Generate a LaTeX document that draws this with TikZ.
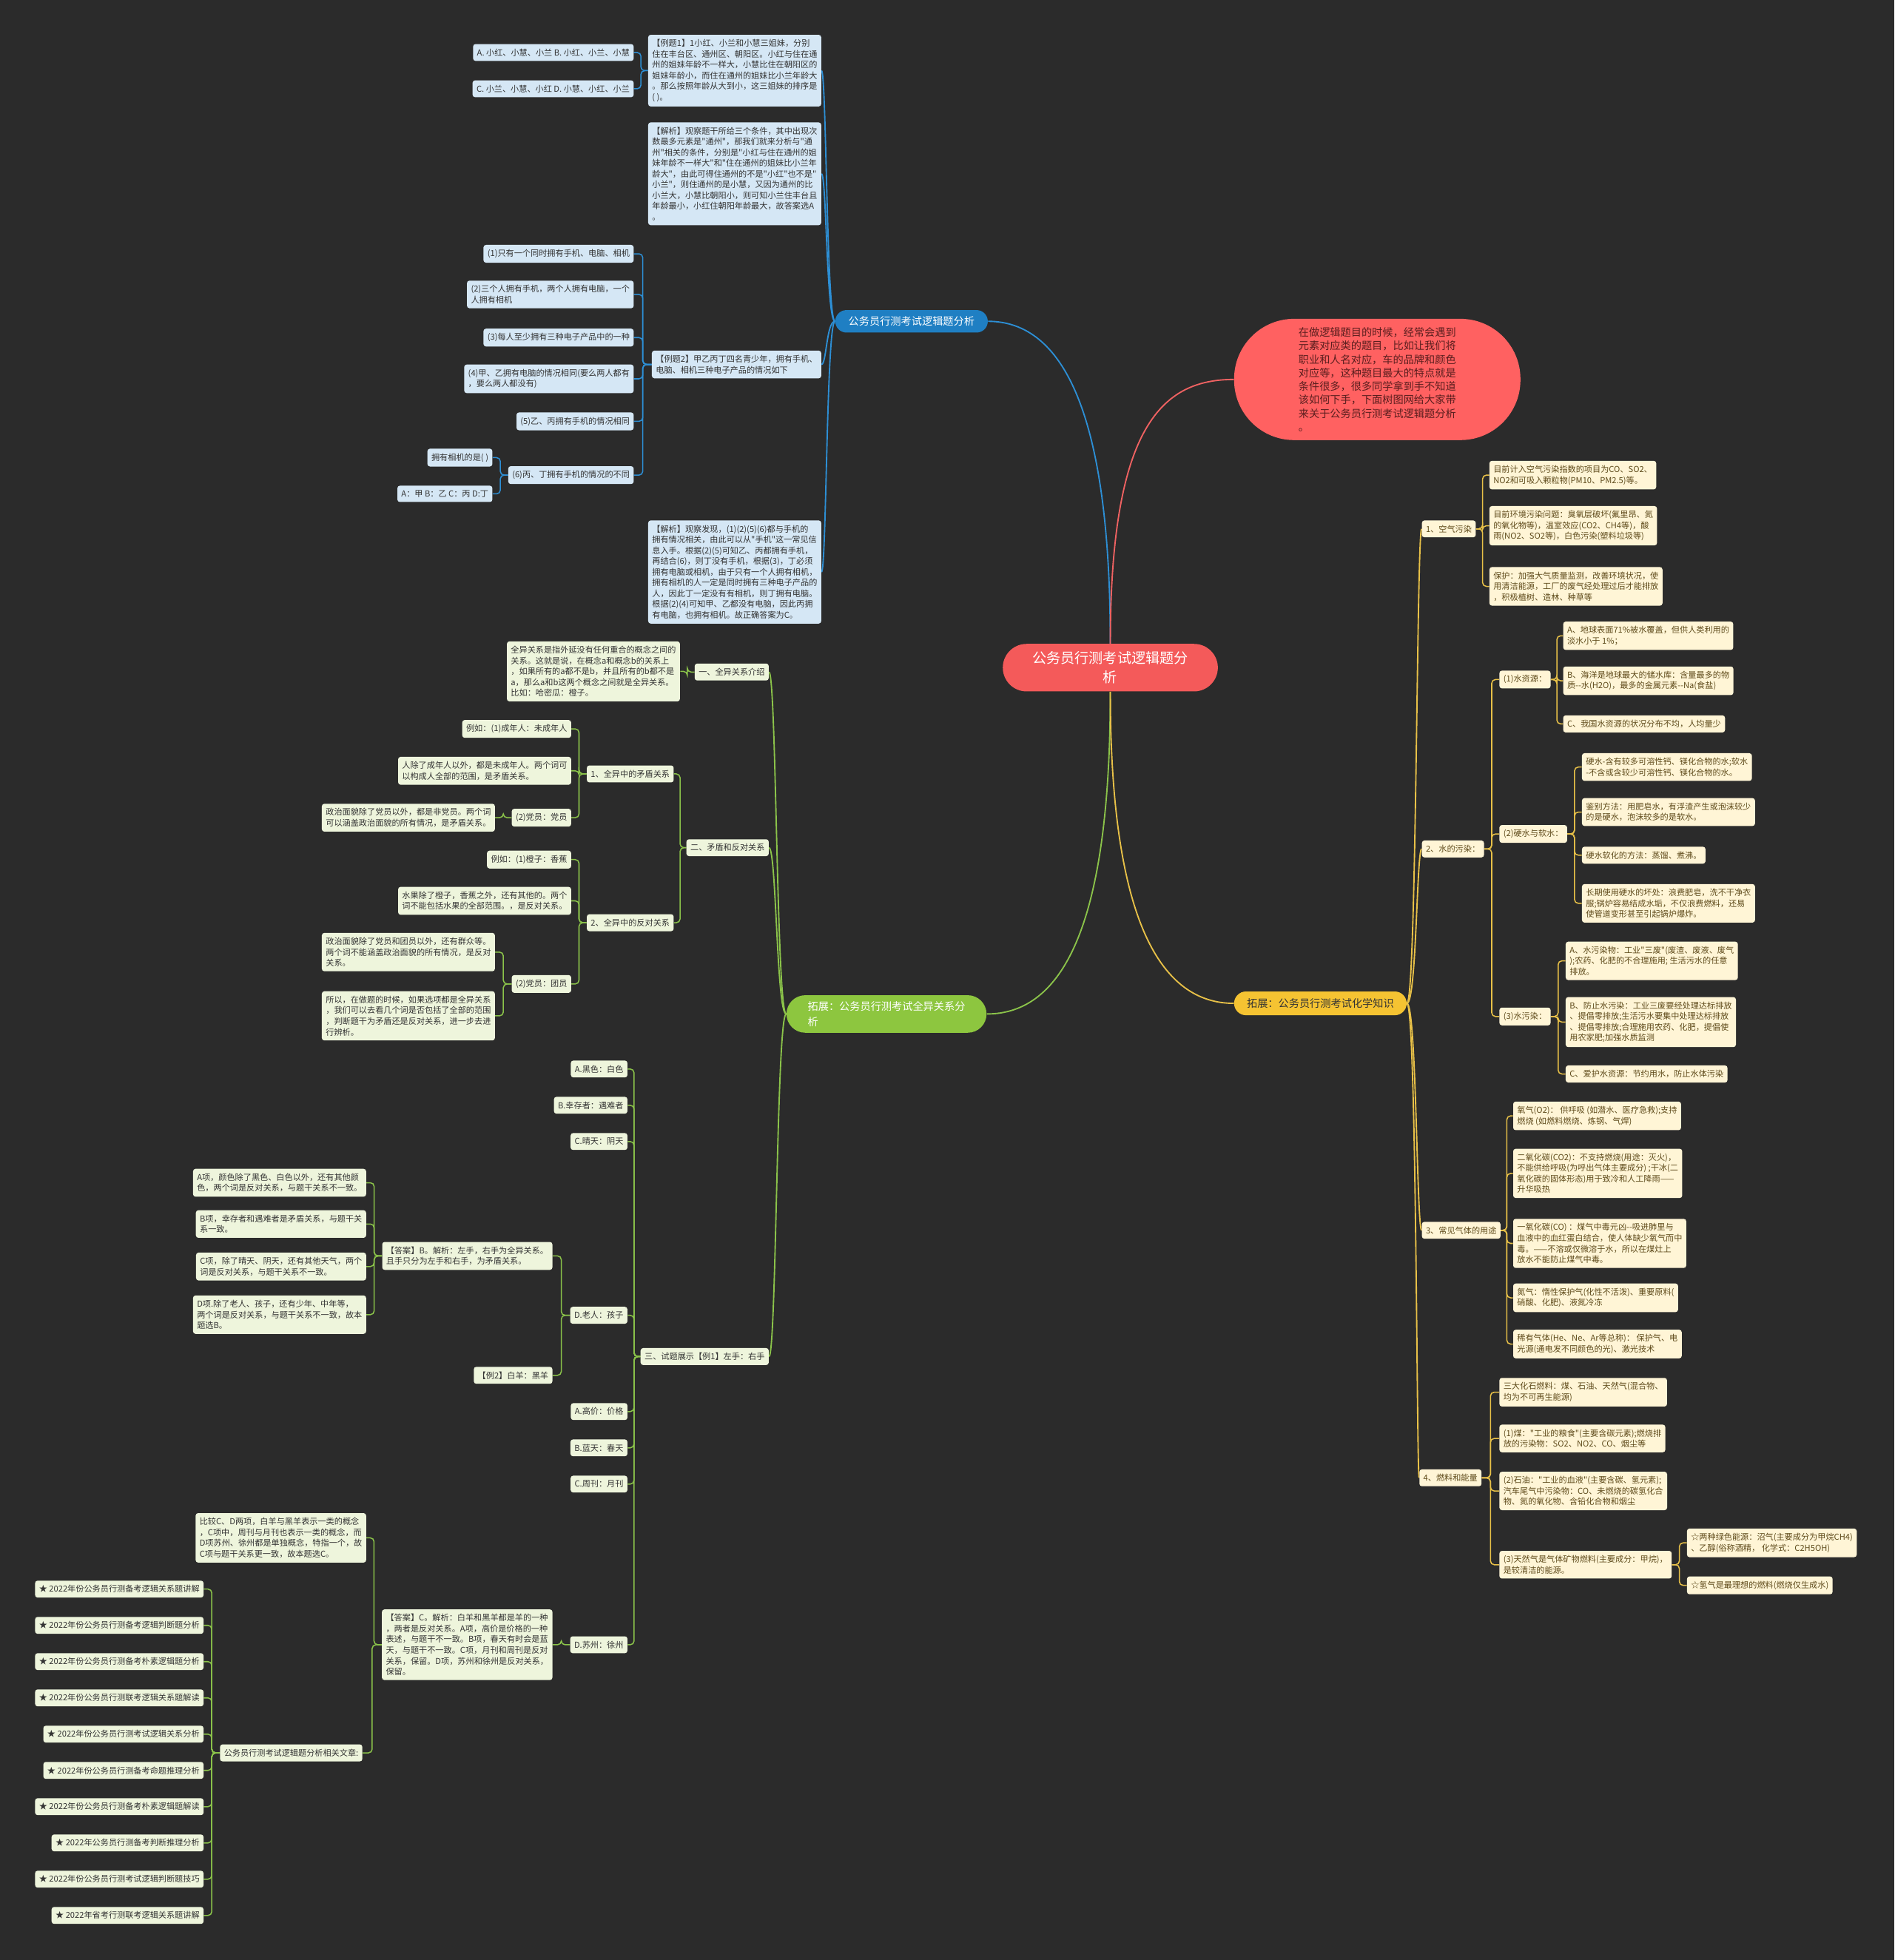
\documentclass[tikz,border=0pt]{standalone}
\usepackage{fontspec}
\newfontfamily\cjk{Noto Sans CJK SC}
\usetikzlibrary{calc}
\definecolor{bgc}{HTML}{2B2B2B}
\definecolor{bluefill}{HTML}{D5E7F5}
\definecolor{greenfill}{HTML}{EEF5DC}
\definecolor{yellowfill}{HTML}{FFF5D6}
\definecolor{bluebr}{HTML}{1F7FC3}
\definecolor{greenbr}{HTML}{8DC63F}
\definecolor{yellowbr}{HTML}{F5C332}
\definecolor{ctrred}{HTML}{F45A5A}
\definecolor{descred}{HTML}{FF6161}
\definecolor{blueline}{HTML}{2D8FD5}
\definecolor{greenline}{HTML}{8BC34A}
\definecolor{yellowline}{HTML}{E8C148}
\definecolor{redline}{HTML}{F06262}
\definecolor{txtdark}{HTML}{333333}
\definecolor{txtbrown}{HTML}{5E4A1A}
\definecolor{desctxt}{HTML}{5A1E1E}
\pgfdeclarelayer{back}
\pgfdeclarelayer{lines}
\pgfsetlayers{back,lines,main}
\newcommand\connL[3]{\draw[#3] (#1.west) -- ($(#1.west)!.5!(#1.west -| #2.east)$) |- (#2.east);}
\newcommand\connR[3]{\draw[#3] (#1.east) -- ($(#1.east)!.5!(#1.east -| #2.west)$) |- (#2.west);}
\newcommand\curveL[4]{\draw[#3] (#1.west) .. controls (#1.west -| #4) and (#2.east -| #4) .. (#2.east);}
\newcommand\curveR[4]{\draw[#3] (#1.east) .. controls (#1.east -| #4) and (#2.west -| #4) .. (#2.west);}
\begin{document}
\begin{tikzpicture}[x={(1pt,0pt)},y={(0pt,-1pt)},
 base/.style={font=\cjk\fontsize{6.6}{8.6}\selectfont, align=left, rounded corners=2pt, inner xsep=3.2pt, inner ysep=3.7pt},
 bn/.style={base, fill=bluefill, text=txtdark},
 gn/.style={base, fill=greenfill, text=txtdark},
 yn/.style={base, fill=yellowfill, text=txtbrown},
 L/.style={anchor=east}, R/.style={anchor=west},
 bl/.style={draw=blueline, line width=0.9pt, rounded corners=3pt},
 gl/.style={draw=greenline, line width=0.9pt, rounded corners=3pt},
 yl/.style={draw=yellowline, line width=0.9pt, rounded corners=3pt},
 blt/.style={draw=blueline, line width=1.1pt},
 glt/.style={draw=greenline, line width=1.1pt},
 ylt/.style={draw=yellowline, line width=1.1pt},
 rlt/.style={draw=redline, line width=1.1pt},
 branch/.style={font=\cjk\fontsize{8.4}{12}\selectfont, inner sep=0pt}
]
\begin{pgfonlayer}{back}
\fill[bgc] (0,0) rectangle (1515,1567.66);
\end{pgfonlayer}
\useasboundingbox (0,0) rectangle (1515,1567.66);

% ---------- centre ----------
\node[font=\cjk\fontsize{11.3}{15.5}\selectfont, align=center, fill=ctrred, text=white,
  minimum width=172, minimum height=38, rounded corners=19pt, inner sep=0pt] (ctr) at (888,534) {公务员行测考试逻辑题分\\析};
\node[font=\cjk\fontsize{8.4}{10.8}\selectfont, align=left, fill=descred, text=desctxt,
  minimum width=229, minimum height=97, rounded corners=48pt, inner sep=0pt] (desc) at (1101.5,303.5)
  {在做逻辑题目的时候，经常会遇到\\元素对应类的题目，比如让我们将\\职业和人名对应，车的品牌和颜色\\对应等，这种题目最大的特点就是\\条件很多，很多同学拿到手不知道\\该如何下手，下面树图网给大家带\\来关于公务员行测考试逻辑题分析\\。};
\node[branch, fill=bluebr, text=white, minimum width=122, minimum height=18, rounded corners=9pt] (bb) at (729,257) {公务员行测考试逻辑题分析};
\node[branch, align=left, fill=greenbr, text=white, minimum width=160, minimum height=30, rounded corners=15pt] (gb) at (709,811) {拓展：公务员行测考试全异关系分\\析};
\node[branch, fill=yellowbr, text=txtdark, minimum width=138, minimum height=19, rounded corners=9.5pt] (yb) at (1056,802.5) {拓展：公务员行测考试化学知识};

% ---------- blue branch ----------
\node[bn,L] (b1) at (657,56.5) {【例题1】1小红、小兰和小慧三姐妹，分别\\住在丰台区、通州区、朝阳区。小红与住在通\\州的姐妹年龄不一样大，小慧比住在朝阳区的\\姐妹年龄小，而住在通州的姐妹比小兰年龄大\\。那么按照年龄从大到小，这三姐妹的排序是\\( )。};
\node[bn,L] (b1a) at (507,42) {A. 小红、小慧、小兰 B. 小红、小兰、小慧};
\node[bn,L] (b1c) at (507,71) {C. 小兰、小慧、小红 D. 小慧、小红、小兰};
\node[bn,L] (b2) at (657,139) {【解析】观察题干所给三个条件，其中出现次\\数最多元素是"通州"，那我们就来分析与"通\\州"相关的条件，分别是"小红与住在通州的姐\\妹年龄不一样大"和"住在通州的姐妹比小兰年\\龄大"，由此可得住通州的不是"小红"也不是"\\小兰"，则住通州的是小慧，又因为通州的比\\小兰大，小慧比朝阳小，则可知小兰住丰台且\\年龄最小，小红住朝阳年龄最大，故答案选A\\。};
\node[bn,L] (b3) at (657,291.5) {【例题2】甲乙丙丁四名青少年，拥有手机、\\电脑、相机三种电子产品的情况如下};
\node[bn,L] (b3a) at (507,203) {(1)只有一个同时拥有手机、电脑、相机};
\node[bn,L] (b3b) at (507,235.5) {(2)三个人拥有手机，两个人拥有电脑，一个\\人拥有相机};
\node[bn,L] (b3c) at (507,270) {(3)每人至少拥有三种电子产品中的一种};
\node[bn,L] (b3d) at (507,303) {(4)甲、乙拥有电脑的情况相同(要么两人都有\\，要么两人都没有)};
\node[bn,L] (b3e) at (507,337) {(5)乙、丙拥有手机的情况相同};
\node[bn,L] (b3f) at (507,380) {(6)丙、丁拥有手机的情况的不同};
\node[bn,L] (b3f1) at (394,366) {拥有相机的是( )};
\node[bn,L] (b3f2) at (394,395) {A：甲 B：乙 C：丙 D:丁};
\node[bn,L] (b4) at (657,457.5) {【解析】观察发现，(1)(2)(5)(6)都与手机的\\拥有情况相关，由此可以从"手机"这一常见信\\息入手。根据(2)(5)可知乙、丙都拥有手机，\\再结合(6)，则丁没有手机，根据(3)，丁必须\\拥有电脑或相机，由于只有一个人拥有相机，\\拥有相机的人一定是同时拥有三种电子产品的\\人，因此丁一定没有有相机，则丁拥有电脑。\\根据(2)(4)可知甲、乙都没有电脑，因此丙拥\\有电脑，也拥有相机。故正确答案为C。};

% ---------- green branch ----------
\node[gn,L] (g1) at (615,537.5) {一、全异关系介绍};
\node[gn,L] (g1a) at (544,537) {全异关系是指外延没有任何重合的概念之间的\\关系。这就是说，在概念a和概念b的关系上\\，如果所有的a都不是b，并且所有的b都不是\\a，那么a和b这两个概念之间就是全异关系。\\比如：哈密瓜：橙子。};
\node[gn,L] (g2) at (615,678) {二、矛盾和反对关系};
\node[gn,L] (g21) at (539,619) {1、全异中的矛盾关系};
\node[gn,L] (g21a) at (457,583) {例如：(1)成年人：未成年人};
\node[gn,L] (g21b) at (457,616.5) {人除了成年人以外，都是未成年人。两个词可\\以构成人全部的范围，是矛盾关系。};
\node[gn,L] (g21c) at (457,654) {(2)党员：党员};
\node[gn,L] (g21c1) at (396,654) {政治面貌除了党员以外，都是非党员。两个词\\可以涵盖政治面貌的所有情况，是矛盾关系。};
\node[gn,L] (g22) at (539,738) {2、全异中的反对关系};
\node[gn,L] (g22a) at (457,687.5) {例如：(1)橙子：香蕉};
\node[gn,L] (g22b) at (457,720.5) {水果除了橙子，香蕉之外，还有其他的。两个\\词不能包括水果的全部范围。，是反对关系。};
\node[gn,L] (g22c) at (457,787) {(2)党员：团员};
\node[gn,L] (g22c1) at (396,761.5) {政治面貌除了党员和团员以外，还有群众等。\\两个词不能涵盖政治面貌的所有情况，是反对\\关系。};
\node[gn,L] (g22c2) at (396,812.5) {所以，在做题的时候，如果选项都是全异关系\\，我们可以去看几个词是否包括了全部的范围\\，判断题干为矛盾还是反对关系，进一步去进\\行辨析。};
\node[gn,L] (g3) at (615,1085) {三、试题展示【例1】左手：右手};
\node[gn,L] (g3a) at (502,855) {A.黑色：白色};
\node[gn,L] (g3b) at (502,884) {B.幸存者：遇难者};
\node[gn,L] (g3c) at (502,913) {C.晴天：阴天};
\node[gn,L] (g3d) at (502,1052) {D.老人：孩子};
\node[gn,L] (g3d1) at (442,1004.5) {【答案】B。解析：左手，右手为全异关系。\\且手只分为左手和右手，为矛盾关系。};
\node[gn,L] (g3d1a) at (293,946) {A项，颜色除了黑色、白色以外，还有其他颜\\色，两个词是反对关系，与题干关系不一致。};
\node[gn,L] (g3d1b) at (293,979) {B项，幸存者和遇难者是矛盾关系，与题干关\\系一致。};
\node[gn,L] (g3d1c) at (293,1013) {C项，除了晴天、阴天，还有其他天气，两个\\词是反对关系，与题干关系不一致。};
\node[gn,L] (g3d1d) at (293,1051.5) {D项.除了老人、孩子，还有少年、中年等，\\两个词是反对关系，与题干关系不一致，故本\\题选B。};
\node[gn,L] (g3d2) at (442,1100) {【例2】白羊：黑羊};
\node[gn,L] (g3e) at (502,1129) {A.高价：价格};
\node[gn,L] (g3f) at (502,1158) {B.蓝天：春天};
\node[gn,L] (g3g) at (502,1187) {C.周刊：月刊};
\node[gn,L] (g3h) at (502,1315.5) {D.苏州：徐州};
\node[gn,L] (g3h1) at (442,1315.5) {【答案】C。解析：白羊和黑羊都是羊的一种\\，两者是反对关系。A项，高价是价格的一种\\表述，与题干不一致。B项，春天有时会是蓝\\天，与题干不一致。C项，月刊和周刊是反对\\关系，保留。D项，苏州和徐州是反对关系，\\保留。};
\node[gn,L] (g3h1a) at (293,1230) {比较C、D两项，白羊与黑羊表示一类的概念\\，C项中，周刊与月刊也表示一类的概念，而\\D项苏州、徐州都是单独概念，特指一个，故\\C项与题干关系更一致，故本题选C。};
\node[gn,L] (rel) at (290,1402) {公务员行测考试逻辑题分析相关文章:};
\node[gn,L] (r1) at (163,1271) {★ 2022年份公务员行测备考逻辑关系题讲解};
\node[gn,L] (r2) at (163,1300) {★ 2022年份公务员行测备考逻辑判断题分析};
\node[gn,L] (r3) at (163,1329) {★ 2022年份公务员行测备考朴素逻辑题分析};
\node[gn,L] (r4) at (163,1358) {★ 2022年份公务员行测联考逻辑关系题解读};
\node[gn,L] (r5) at (163,1387) {★ 2022年份公务员行测考试逻辑关系分析};
\node[gn,L] (r6) at (163,1416) {★ 2022年份公务员行测备考命题推理分析};
\node[gn,L] (r7) at (163,1445) {★ 2022年份公务员行测备考朴素逻辑题解读};
\node[gn,L] (r8) at (163,1474) {★ 2022年公务员行测备考判断推理分析};
\node[gn,L] (r9) at (163,1503) {★ 2022年份公务员行测考试逻辑判断题技巧};
\node[gn,L] (r10) at (163,1532) {★ 2022年省考行测联考逻辑关系题讲解};

% ---------- yellow branch ----------
\node[yn,R] (y1) at (1137,423) {1、空气污染};
\node[yn,R] (y1a) at (1191,380) {目前计入空气污染指数的项目为CO、SO2、\\NO2和可吸入颗粒物(PM10、PM2.5)等。};
\node[yn,R] (y1b) at (1191,420.5) {目前环境污染问题：臭氧层破坏(氟里昂、氮\\的氧化物等)，温室效应(CO2、CH4等)，酸\\雨(NO2、SO2等)，白色污染(塑料垃圾等)};
\node[yn,R] (y1c) at (1191,469) {保护：加强大气质量监测，改善环境状况，使\\用清洁能源，工厂的废气经处理过后才能排放\\，积极植树、造林、种草等};
\node[yn,R] (y2) at (1137,679) {2、水的污染：};
\node[yn,R] (y21) at (1199,543.5) {(1)水资源：};
\node[yn,R] (y21a) at (1250,508.5) {A、地球表面71\%被水覆盖，但供人类利用的\\淡水小于 1\%；};
\node[yn,R] (y21b) at (1250,544.5) {B、海洋是地球最大的储水库：含量最多的物\\质-{}-水(H2O)，最多的金属元素-{}-Na(食盐)};
\node[yn,R] (y21c) at (1250,579) {C、我国水资源的状况分布不均，人均量少};
\node[yn,R] (y22) at (1199,667) {(2)硬水与软水：};
\node[yn,R] (y22a) at (1265,613.5) {硬水-含有较多可溶性钙、镁化合物的水;软水\\-不含或含较少可溶性钙、镁化合物的水。};
\node[yn,R] (y22b) at (1265,649.5) {鉴别方法：用肥皂水，有浮渣产生或泡沫较少\\的是硬水，泡沫较多的是软水。};
\node[yn,R] (y22c) at (1265,684) {硬水软化的方法：蒸馏、煮沸。};
\node[yn,R] (y22d) at (1265,722.5) {长期使用硬水的坏处：浪费肥皂，洗不干净衣\\服;锅炉容易结成水垢，不仅浪费燃料，还易\\使管道变形甚至引起锅炉爆炸。};
\node[yn,R] (y23) at (1199,813) {(3)水污染：};
\node[yn,R] (y23a) at (1252,768.5) {A、水污染物：工业"三废"(废渣、废液、废气\\);农药、化肥的不合理施用; 生活污水的任意\\排放。};
\node[yn,R] (y23b) at (1252,817.5) {B、防止水污染：工业三废要经处理达标排放\\、提倡零排放;生活污水要集中处理达标排放\\、提倡零排放;合理施用农药、化肥，提倡使\\用农家肥;加强水质监测};
\node[yn,R] (y23c) at (1252,859) {C、爱护水资源：节约用水，防止水体污染};
\node[yn,R] (y3) at (1137,984) {3、常见气体的用途};
\node[yn,R] (y3a) at (1210,892.5) {氧气(O2)： 供呼吸 (如潜水、医疗急救);支持\\燃烧 (如燃料燃烧、炼钢、气焊)};
\node[yn,R] (y3b) at (1210,938.5) {二氧化碳(CO2)：不支持燃烧(用途：灭火)，\\不能供给呼吸(为呼出气体主要成分) ;干冰(二\\氧化碳的固体形态)用于致冷和人工降雨——\\升华吸热};
\node[yn,R] (y3c) at (1210,994.5) {一氧化碳(CO) ：煤气中毒元凶-{}-吸进肺里与\\血液中的血红蛋白结合，使人体缺少氧气而中\\毒。——不溶或仅微溶于水，所以在煤灶上\\放水不能防止煤气中毒。};
\node[yn,R] (y3d) at (1210,1038) {氮气：惰性保护气(化性不活泼)、重要原料(\\硝酸、化肥)、液氮冷冻};
\node[yn,R] (y3e) at (1210,1075) {稀有气体(He、Ne、Ar等总称)： 保护气、电\\光源(通电发不同颜色的光)、激光技术};
\node[yn,R] (y4) at (1135,1182) {4、燃料和能量};
\node[yn,R] (y4a) at (1199,1113.5) {三大化石燃料：煤、石油、天然气(混合物、\\均为不可再生能源)};
\node[yn,R] (y4b) at (1199,1150.5) {(1)煤："工业的粮食"(主要含碳元素);燃烧排\\放的污染物：SO2、NO2、CO、烟尘等};
\node[yn,R] (y4c) at (1199,1192.5) {(2)石油："工业的血液"(主要含碳、氢元素);\\汽车尾气中污染物：CO、未燃烧的碳氢化合\\物、氮的氧化物、含铅化合物和烟尘};
\node[yn,R] (y4d) at (1199,1251.5) {(3)天然气是气体矿物燃料(主要成分：甲烷)，\\是较清洁的能源。};
\node[yn,R] (y4d1) at (1349,1234) {☆两种绿色能源：沼气(主要成分为甲烷CH4)\\、乙醇(俗称酒精， 化学式：C2H5OH)};
\node[yn,R] (y4d2) at (1349,1268) {☆氢气是最理想的燃料(燃烧仅生成水)};

% ---------- connectors ----------
\coordinate (bT) at (661,0);
\coordinate (gT) at (621,0);
\coordinate (yT) at (1133,0);
\begin{pgfonlayer}{lines}
\draw[blt] (ctr.north) .. controls (888,330) and (850,257) .. (bb.east);
\draw[rlt] (ctr.north) .. controls (888,340) and (930,303.5) .. (desc.west);
\draw[glt] (ctr.south) .. controls (888,740) and (850,811) .. (gb.east);
\draw[ylt] (ctr.south) .. controls (888,740) and (930,802.5) .. (yb.west);
% blue
\curveL{bb}{b1}{blt}{bT}
\curveL{bb}{b2}{blt}{bT}
\curveL{bb}{b3}{blt}{bT}
\curveL{bb}{b4}{blt}{bT}
\connL{b1}{b1a}{bl}
\connL{b1}{b1c}{bl}
\connL{b3}{b3a}{bl}
\connL{b3}{b3b}{bl}
\connL{b3}{b3c}{bl}
\connL{b3}{b3d}{bl}
\connL{b3}{b3e}{bl}
\connL{b3}{b3f}{bl}
\connL{b3f}{b3f1}{bl}
\connL{b3f}{b3f2}{bl}
% green
\curveL{gb}{g1}{glt}{gT}
\curveL{gb}{g2}{glt}{gT}
\curveL{gb}{g3}{glt}{gT}
\connL{g1}{g1a}{gl}
\connL{g2}{g21}{gl}
\connL{g2}{g22}{gl}
\connL{g21}{g21a}{gl}
\connL{g21}{g21b}{gl}
\connL{g21}{g21c}{gl}
\connL{g21c}{g21c1}{gl}
\connL{g22}{g22a}{gl}
\connL{g22}{g22b}{gl}
\connL{g22}{g22c}{gl}
\connL{g22c}{g22c1}{gl}
\connL{g22c}{g22c2}{gl}
\connL{g3}{g3a}{gl}
\connL{g3}{g3b}{gl}
\connL{g3}{g3c}{gl}
\connL{g3}{g3d}{gl}
\connL{g3}{g3e}{gl}
\connL{g3}{g3f}{gl}
\connL{g3}{g3g}{gl}
\connL{g3}{g3h}{gl}
\connL{g3d}{g3d1}{gl}
\connL{g3d}{g3d2}{gl}
\connL{g3d1}{g3d1a}{gl}
\connL{g3d1}{g3d1b}{gl}
\connL{g3d1}{g3d1c}{gl}
\connL{g3d1}{g3d1d}{gl}
\connL{g3h}{g3h1}{gl}
\connL{g3h1}{g3h1a}{gl}
\connL{g3h1}{rel}{gl}
\connL{rel}{r1}{gl}
\connL{rel}{r2}{gl}
\connL{rel}{r3}{gl}
\connL{rel}{r4}{gl}
\connL{rel}{r5}{gl}
\connL{rel}{r6}{gl}
\connL{rel}{r7}{gl}
\connL{rel}{r8}{gl}
\connL{rel}{r9}{gl}
\connL{rel}{r10}{gl}
% yellow
\curveR{yb}{y1}{ylt}{yT}
\curveR{yb}{y2}{ylt}{yT}
\curveR{yb}{y3}{ylt}{yT}
\curveR{yb}{y4}{ylt}{yT}
\connR{y1}{y1a}{yl}
\connR{y1}{y1b}{yl}
\connR{y1}{y1c}{yl}
\connR{y2}{y21}{yl}
\connR{y2}{y22}{yl}
\connR{y2}{y23}{yl}
\connR{y21}{y21a}{yl}
\connR{y21}{y21b}{yl}
\connR{y21}{y21c}{yl}
\connR{y22}{y22a}{yl}
\connR{y22}{y22b}{yl}
\connR{y22}{y22c}{yl}
\connR{y22}{y22d}{yl}
\connR{y23}{y23a}{yl}
\connR{y23}{y23b}{yl}
\connR{y23}{y23c}{yl}
\connR{y3}{y3a}{yl}
\connR{y3}{y3b}{yl}
\connR{y3}{y3c}{yl}
\connR{y3}{y3d}{yl}
\connR{y3}{y3e}{yl}
\connR{y4}{y4a}{yl}
\connR{y4}{y4b}{yl}
\connR{y4}{y4c}{yl}
\connR{y4}{y4d}{yl}
\connR{y4d}{y4d1}{yl}
\connR{y4d}{y4d2}{yl}
\end{pgfonlayer}
\end{tikzpicture}
\end{document}
